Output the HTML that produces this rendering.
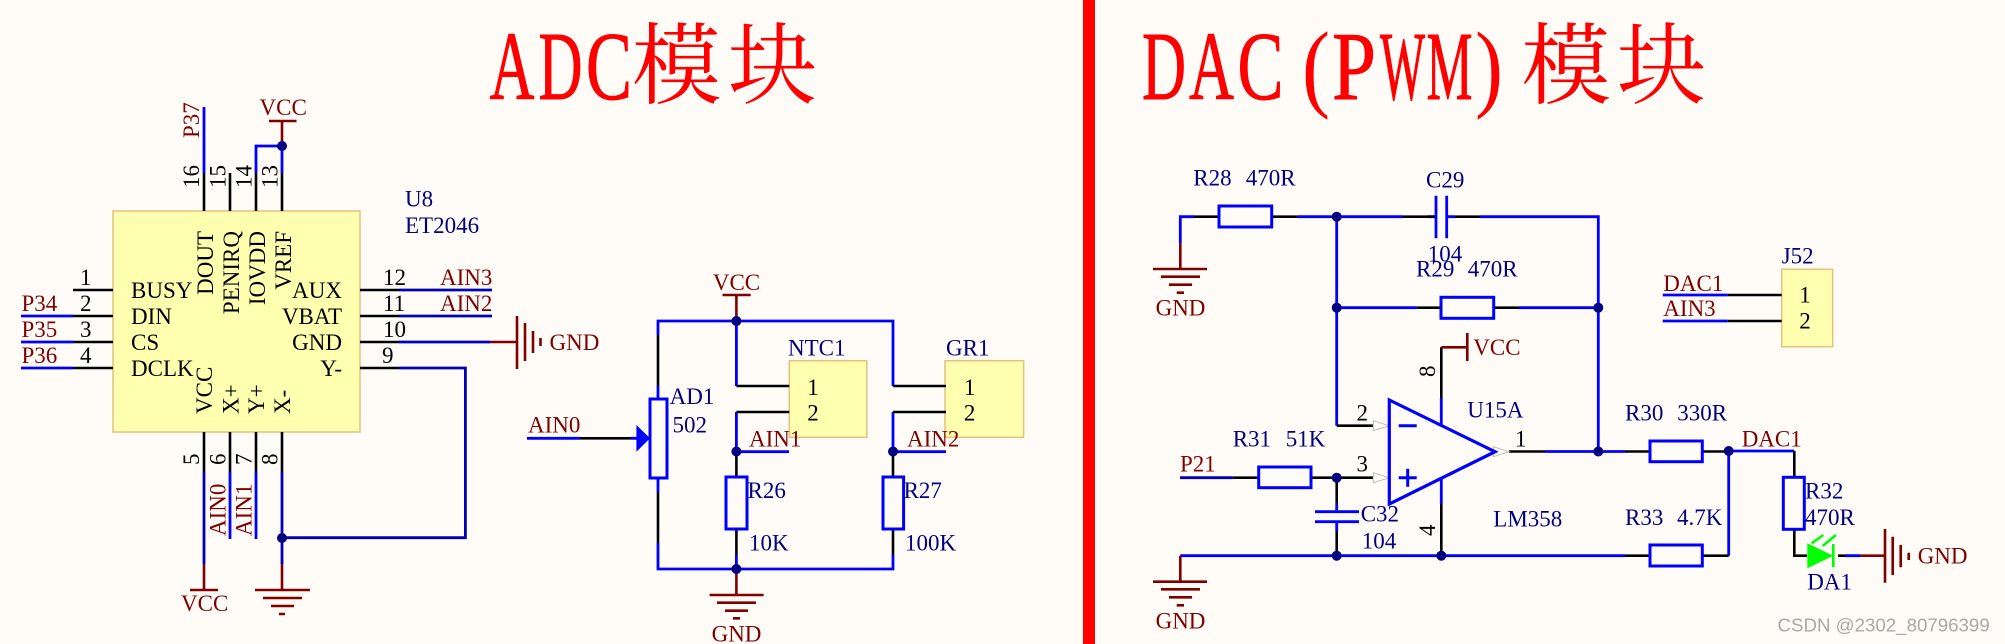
<!DOCTYPE html>
<html><head><meta charset="utf-8"><style>
html,body{margin:0;padding:0;background:#fffcf8}
svg{display:block}
text{font-family:"Liberation Serif","Noto Serif CJK SC",serif;font-size:23px}
.n{fill:#000080}.m{fill:#800000}.k{fill:#000}
.w{stroke:#0000ff;stroke-width:2.8;fill:none}
.d{stroke:#0000b4;stroke-width:2.8;fill:none}
.p{stroke:#000;stroke-width:2.6;fill:none}
.r{stroke:#800000;stroke-width:2.6;fill:none}
.b{fill:#ffffb0;stroke:#e6c07c;stroke-width:1.5}
.c{fill:#fffcf8;stroke:#0000ff;stroke-width:3}
.t{fill:#ff0000;font-size:97px;stroke:#ff0000;stroke-width:.9}
.z{fill:#ff0000;font-size:89px;font-family:"Noto Serif CJK SC",serif}
.a{fill:#fffcf8;stroke:#bbb;stroke-width:1}
</style></head><body>
<svg width="2005" height="644" viewBox="0 0 2005 644" xmlns="http://www.w3.org/2000/svg">
<rect width="2005" height="644" fill="#fffcf8"/>
<!-- titles -->
<rect x="1083" y="0" width="12" height="644" fill="#ff0000"/>
<text class="t" x="489.5" y="99" textLength="45" lengthAdjust="spacingAndGlyphs">A</text>
<text class="t" x="538.5" y="99" textLength="44" lengthAdjust="spacingAndGlyphs">D</text>
<text class="t" x="586" y="99" textLength="46" lengthAdjust="spacingAndGlyphs">C</text>
<text class="z" x="632" y="97">模</text><text class="z" x="728" y="97">块</text>
<text class="t" x="1142" y="99" textLength="44" lengthAdjust="spacingAndGlyphs">D</text>
<text class="t" x="1189" y="99" textLength="45" lengthAdjust="spacingAndGlyphs">A</text>
<text class="t" x="1237.5" y="99" textLength="46" lengthAdjust="spacingAndGlyphs">C</text>
<text class="t" x="1302" y="99" textLength="28" lengthAdjust="spacingAndGlyphs" style="stroke-width:0">(</text>
<text class="t" x="1332" y="99" textLength="44" lengthAdjust="spacingAndGlyphs">P</text>
<text class="t" x="1380" y="99" textLength="45" lengthAdjust="spacingAndGlyphs">W</text>
<text class="t" x="1426.5" y="99" textLength="46" lengthAdjust="spacingAndGlyphs">M</text>
<text class="t" x="1475" y="99" textLength="28" lengthAdjust="spacingAndGlyphs" style="stroke-width:0">)</text>
<text class="z" x="1521.5" y="97">模</text><text class="z" x="1617" y="97">块</text>

<!-- U8 IC -->
<rect class="b" x="113" y="211" width="247" height="221"/>
<path class="p" d="M204 211V173M230 211V173M256 211V173M282 211V173M204 432V472M230 432V472M256 432V472M282 432V472M113 290H73M113 316H73M113 342H73M113 368H73M360 290H399M360 316H399M360 342H399M360 368H399"/>
<path class="w" d="M204 173V107M256 173V146H282M282 146V173M21 316H73M21 342H73M21 368H73M230 472V539M256 472V539"/>
<path class="d" d="M399 290H492M399 316H492M399 342H490M399 368H465.4V537.7H282M204 472V564M282 472V564"/>
<path class="r" d="M282 146V121M269 121H296.5M490 342H517M517 316V369M525 323V361M533 331V353M540.5 338V346M204 564V590M190 590H218M282 564V590M255 590H310M263 598H302M271 606H294M279 614H285"/>
<circle cx="282" cy="146" r="5" fill="#000080"/><circle cx="282" cy="538" r="5" fill="#000080"/>
<text class="k" x="131" y="298">BUSY</text><text class="k" x="131" y="324">DIN</text><text class="k" x="131" y="350">CS</text><text class="k" x="131" y="376">DCLK</text>
<g class="k" text-anchor="end"><text x="342" y="298">AUX</text><text x="342" y="324">VBAT</text><text x="342" y="350">GND</text><text x="342" y="376">Y-</text></g>
<g class="k" text-anchor="end">
<text transform="translate(213,231) rotate(-90)">DOUT</text>
<text transform="translate(239,231) rotate(-90)">PENIRQ</text>
<text transform="translate(265,231) rotate(-90)">IOVDD</text>
<text transform="translate(291,231) rotate(-90)">VREF</text>
</g>
<g class="k">
<text transform="translate(212,414) rotate(-90)">VCC</text>
<text transform="translate(238.5,414) rotate(-90)">X+</text>
<text transform="translate(264,414) rotate(-90)">Y+</text>
<text transform="translate(290,414) rotate(-90)">X-</text>
<text transform="translate(199,188) rotate(-90)">16</text>
<text transform="translate(225.4,188) rotate(-90)">15</text>
<text transform="translate(251.5,188) rotate(-90)">14</text>
<text transform="translate(277.6,188) rotate(-90)">13</text>
<text transform="translate(199,465) rotate(-90)">5</text>
<text transform="translate(225.4,465) rotate(-90)">6</text>
<text transform="translate(251.5,465) rotate(-90)">7</text>
<text transform="translate(277.6,465) rotate(-90)">8</text>
<text x="80" y="285">1</text><text x="80" y="311">2</text><text x="80" y="337">3</text><text x="80" y="363">4</text>
<text x="383" y="285">12</text><text x="383" y="311">11</text><text x="383" y="337">10</text><text x="382" y="363">9</text>
</g>
<text class="n" x="405" y="206.5">U8</text><text class="n" x="405" y="233">ET2046</text>
<g class="m">
<text transform="translate(199,138) rotate(-90)">P37</text>
<text x="259.5" y="115">VCC</text>
<text x="21.5" y="311">P34</text><text x="21.5" y="337">P35</text><text x="21.5" y="363">P36</text>
<text x="440" y="285">AIN3</text><text x="440" y="311">AIN2</text>
<text x="549.5" y="350">GND</text>
<text transform="translate(225.4,536) rotate(-90)">AIN0</text>
<text transform="translate(251.5,536) rotate(-90)">AIN1</text>
<text x="181" y="611">VCC</text>
</g>

<!-- bridge -->
<rect class="b" x="789.3" y="360.7" width="77.5" height="76.6"/>
<rect class="b" x="945" y="360.7" width="78.6" height="76.6"/>
<path class="w" d="M658 335V321H893V386M736.4 321V386M658 386V399M658 478V492M658 543V569H893V555M736.4 555V569M736.4 412V451.7H789M893 412V451.7H946M527 438.3H580M631 438.3H640"/>
<path class="p" d="M658 335V386M658 492V543M736.4 386H789.3M893 386H946M736.4 412H789.3M893 412H946M736.4 452V477M893 452V477M736.4 529V555M893 529V555M580 438.3H631"/>
<rect class="c" x="650" y="399" width="17" height="79"/>
<rect class="c" x="726" y="477" width="21" height="52"/>
<rect class="c" x="883" y="477" width="20.6" height="52"/>
<path d="M636.4 425L650 438.3L636.4 451.7Z" fill="#0000ff"/>
<path class="r" d="M736.4 295V321M722.5 295H750.7M736.4 569V595M709.6 595H763.6M717 602.7H756M725 610.7H748M733 618.3H740"/>
<circle cx="736.4" cy="321" r="5" fill="#000080"/><circle cx="736.4" cy="569" r="5" fill="#000080"/>
<circle cx="736.4" cy="451.5" r="5" fill="#000080"/><circle cx="893" cy="451.5" r="5" fill="#000080"/>
<g class="n">
<text x="788" y="355.7">NTC1</text><text x="946" y="355.7">GR1</text>
<text x="669.6" y="404">AD1</text><text x="672.5" y="432.7">502</text>
<text x="747.5" y="498">R26</text><text x="903.6" y="498">R27</text>
<text x="749" y="550.7">10K</text><text x="905" y="550.7">100K</text>
</g>
<g class="k" text-anchor="middle">
<text x="813" y="395">1</text><text x="813" y="420.7">2</text><text x="969.6" y="395">1</text><text x="969.6" y="420.7">2</text>
</g>
<g class="m">
<text x="736.5" y="290" text-anchor="middle">VCC</text>
<text x="736.5" y="641.7" text-anchor="middle">GND</text>
<text x="749" y="446.7">AIN1</text><text x="907" y="446.7">AIN2</text>
<text x="528" y="432.7">AIN0</text>
</g>

<!-- DAC -->
<path class="w" d="M1180.3 243V216.7H1194M1297.7 216.7H1403M1427.7 216.7H1436M1446.7 216.7H1455M1480 216.7H1598.3V451M1336.7 216.7V425.7M1336.7 307.7H1416.7M1519 307.7H1598.3M1441.3 398V425M1441.3 478V504M1336.7 503V511.7M1336.7 521.7V531M1180.3 555.7H1625M1545 451.5H1625M1727 451H1794.3M1728.7 451V555.7M1845 555.7H1860"/>
<path class="p" d="M1194 216.7H1219M1272 216.7H1297.7M1403 216.7H1436M1455 216.7H1480M1416.7 307.7H1441M1493.7 307.7H1519M1441.3 398V347.3M1336.7 425.7H1373.3M1232.7 477.7H1258.7M1311 477.7H1373.3M1336.7 477.7V503M1336.7 531V555.7M1441.3 504V555.7M1509 451.5H1545M1625 451.5H1650M1702 451.5H1728M1625 555.7H1650M1702 555.7H1728.7M1794.3 451V477.3M1794.3 529V555.7H1807M1838 555.7H1845"/>
<path class="d" d="M1180 477.7H1232.7"/>
<path class="w" d="M1436 195.7V238.3M1446.7 195.7V238.3M1315 511.7H1359M1315 521.7H1359"/>
<rect class="c" x="1219" y="206" width="52.7" height="21"/>
<rect class="c" x="1441" y="297.3" width="52.7" height="21"/>
<rect class="c" x="1258.7" y="467" width="52.3" height="20.7"/>
<rect class="c" x="1650" y="441" width="52.3" height="20.7"/>
<rect class="c" x="1650" y="545" width="52.3" height="21"/>
<rect class="c" x="1783.3" y="477.3" width="21" height="52"/>
<path class="a" d="M1373.3 420.7L1389.3 425.7L1373.3 430.7Z"/>
<path class="a" d="M1373.3 472.7L1389.3 477.7L1373.3 482.7Z"/>
<path class="a" d="M1493.3 446.7L1509 451.7L1493.3 456.7Z"/>
<path d="M1389.3 400L1495 451.7L1389.3 504Z" fill="#fffcf8" stroke="#0000ff" stroke-width="3.2"/>
<path class="w" d="M1398.7 425.7H1416.7M1398.7 477.7H1416.7M1407.7 468.7V486.7" style="stroke-width:3"/>
<path class="r" d="M1180.3 243V269M1153 269H1207M1161 276.7H1200M1169 284.7H1192M1176.7 292.7H1184M1180.3 555.7V581.7M1153 581.7H1207M1161 589.3H1200M1169 597.3H1192M1176.7 605.3H1184M1441.3 347.3H1467.3M1467.3 333V361M1860 555.7H1885M1885 529V582.7M1892.7 536.7V575M1900.7 545V567.3M1908.7 552.7V560"/>
<g fill="#000080">
<circle cx="1336.7" cy="216.7" r="5"/><circle cx="1336.7" cy="307.7" r="5"/><circle cx="1598.3" cy="307.7" r="5"/><circle cx="1598.3" cy="451.5" r="5"/><circle cx="1336.7" cy="477.7" r="5"/><circle cx="1336.7" cy="555.7" r="5"/><circle cx="1441.3" cy="555.7" r="5"/><circle cx="1728.7" cy="451" r="5"/>
</g>
<path d="M1807.3 543.3L1833.3 555.7L1807.3 568.3Z" fill="#00ff00"/>
<path d="M1833.3 544V567.3M1811.7 543.3L1823.3 535M1822.7 546L1836 535" stroke="#00ff00" stroke-width="2.6" fill="none"/>
<!-- J52 -->
<rect class="b" x="1781.7" y="269.3" width="51" height="77.4"/>
<path class="w" d="M1662.7 295H1727.7M1662.7 321H1727.7"/>
<path class="p" d="M1727.7 295H1781.7M1727.7 321H1781.7"/>
<g class="n">
<text x="1193.3" y="185.7">R28</text><text x="1245.7" y="185.7">470R</text>
<text x="1426" y="187.7">C29</text><text x="1427.7" y="261.7">104</text>
<text x="1416" y="276.7">R29</text><text x="1467.7" y="276.7">470R</text>
<text x="1467.3" y="417.7">U15A</text>
<text x="1232.7" y="446.7">R31</text><text x="1285.7" y="446.7">51K</text>
<text x="1360.7" y="521.7">C32</text><text x="1361.7" y="548.3">104</text>
<text x="1493.3" y="526.7">LM358</text>
<text x="1625" y="420.7">R30</text><text x="1677.3" y="420.7">330R</text>
<text x="1625" y="525">R33</text><text x="1677" y="525">4.7K</text>
<text x="1805" y="498.3">R32</text><text x="1805" y="525">470R</text>
<text x="1807.3" y="589.3">DA1</text>
<text x="1781.7" y="263.3">J52</text>
</g>
<g class="k">
<text x="1362.3" y="420.7" text-anchor="middle">2</text><text x="1362.3" y="471.7" text-anchor="middle">3</text>
<text x="1520.7" y="446.7" text-anchor="middle">1</text>
<text transform="translate(1435,377) rotate(-90)">8</text>
<text transform="translate(1435,536) rotate(-90)">4</text>
<text x="1805" y="302.7" text-anchor="middle">1</text><text x="1805" y="328.3" text-anchor="middle">2</text>
</g>
<g class="m">
<text x="1180.5" y="315.7" text-anchor="middle">GND</text>
<text x="1180.5" y="628.3" text-anchor="middle">GND</text>
<text x="1473.3" y="355">VCC</text>
<text x="1180" y="471.7">P21</text>
<text x="1741.7" y="446.7">DAC1</text>
<text x="1917.7" y="563.3">GND</text>
<text x="1663.3" y="291">DAC1</text>
<text x="1663.3" y="316">AIN3</text>
</g>
<text x="1777.5" y="631.5" fill="#a8a8a8" style="font-family:'Liberation Sans',sans-serif;font-size:18.7px">CSDN @2302_80796399</text>
</svg>
</body></html>
